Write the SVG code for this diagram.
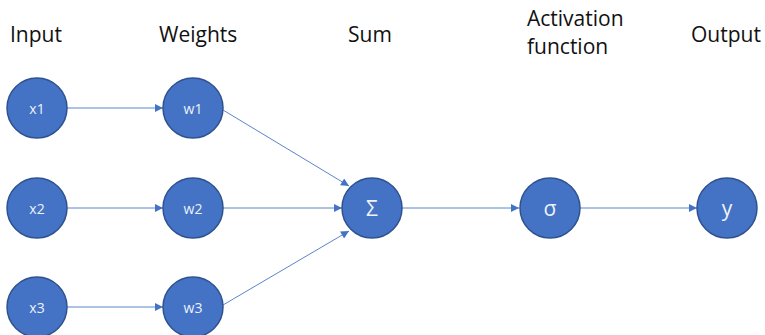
<svg xmlns="http://www.w3.org/2000/svg" width="765" height="335" viewBox="0 0 765 335">
  <style>
    .hdr { font-family: "Open Sans", "Liberation Sans", sans-serif; font-size: 21px; fill: #111; }
    .node circle { fill: #4472C4; stroke: #2F528F; stroke-width: 1.5; }
    .node text { font-family: "Open Sans", "Liberation Sans", sans-serif; fill: #EEF2FA; text-anchor: middle; dominant-baseline: central; }
    .sm { font-size: 14px; }
    .lg { font-size: 21px; }
    .edge { stroke: #5B84CC; stroke-width: 1; fill: none; marker-end: url(#arrow); }
  </style>
  <defs>
    <marker id="arrow" viewBox="0 0 10 10" refX="10" refY="5" markerWidth="9" markerHeight="8" markerUnits="userSpaceOnUse" orient="auto">
      <path d="M0,0 L10,5 L0,10 z" fill="#4472C4"/>
    </marker>
  </defs>
  <rect width="765" height="335" fill="#fff"/>

  <!-- column headings -->
  <g id="headings">
    <text class="hdr" x="10" y="42">Input</text>
    <text class="hdr" x="159" y="42">Weights</text>
    <text class="hdr" x="348" y="42">Sum</text>
    <text class="hdr" x="527" y="26">Activation</text>
    <text class="hdr" x="527" y="54">function</text>
    <text class="hdr" x="691" y="42">Output</text>
  </g>

  <!-- connectors -->
  <g id="connectors">
    <line class="edge" x1="67" y1="108" x2="163" y2="108"/>
    <line class="edge" x1="67" y1="208" x2="163" y2="208"/>
    <line class="edge" x1="67" y1="307" x2="163" y2="307"/>
    <line class="edge" x1="223" y1="110" x2="349" y2="186"/>
    <line class="edge" x1="223" y1="208" x2="342" y2="208"/>
    <line class="edge" x1="223" y1="305" x2="349" y2="231"/>
    <line class="edge" x1="402" y1="208" x2="519" y2="208"/>
    <line class="edge" x1="580" y1="208" x2="697" y2="208"/>
  </g>

  <!-- nodes -->
  <g id="x1" class="node"><circle cx="37" cy="108" r="30"/><text class="sm" x="37" y="108">x1</text></g>
  <g id="x2" class="node"><circle cx="37" cy="208" r="30"/><text class="sm" x="37" y="208">x2</text></g>
  <g id="x3" class="node"><circle cx="37" cy="307" r="30"/><text class="sm" x="37" y="307">x3</text></g>
  <g id="w1" class="node"><circle cx="193" cy="108" r="30"/><text class="sm" x="193" y="108">w1</text></g>
  <g id="w2" class="node"><circle cx="193" cy="208" r="30"/><text class="sm" x="193" y="208">w2</text></g>
  <g id="w3" class="node"><circle cx="193" cy="307" r="30"/><text class="sm" x="193" y="307">w3</text></g>
  <g id="sum" class="node"><circle cx="372" cy="208" r="30"/><text class="lg" x="372" y="208">Σ</text></g>
  <g id="activation" class="node"><circle cx="550" cy="208" r="30"/><text class="lg" x="550" y="208">σ</text></g>
  <g id="output" class="node"><circle cx="727" cy="208" r="30"/><text class="lg" x="727" y="208">y</text></g>
</svg>
